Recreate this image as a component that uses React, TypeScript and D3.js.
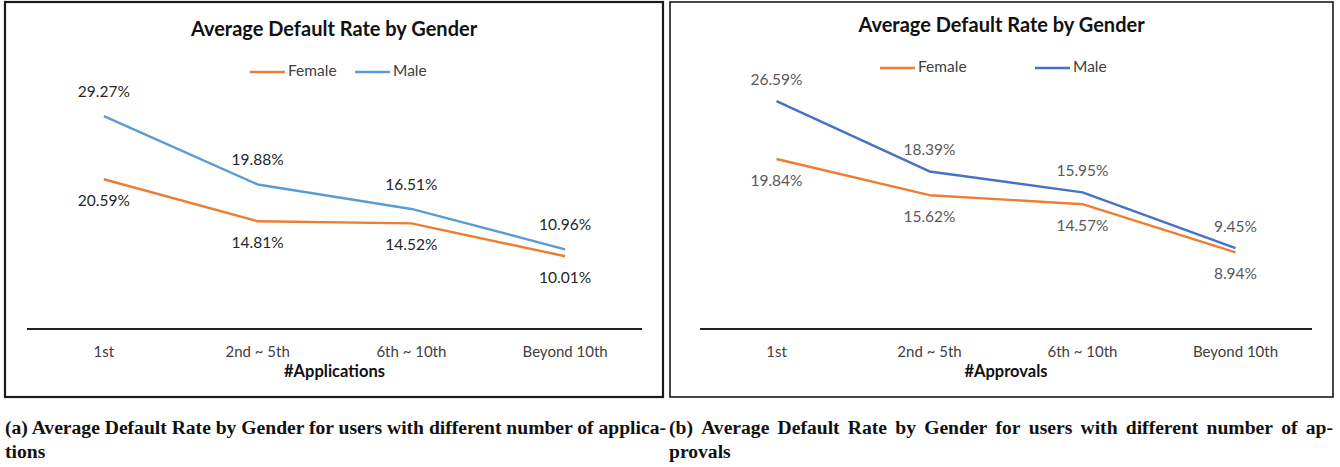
import * as d3 from "d3"
import { useLayoutEffect, useRef, useState } from "react"

const categories = ["1st", "2nd ~ 5th", "6th ~ 10th", "Beyond 10th"]
const femaleApplications = [20.59, 14.81, 14.52, 10.01]
const maleApplications = [29.27, 19.88, 16.51, 10.96]
const femaleApprovals = [19.84, 15.62, 14.57, 8.94]
const maleApprovals = [26.59, 18.39, 15.95, 9.45]

const captionA = "(a) Average Default Rate by Gender for users with different number of applica-"
const captionA2 = "tions"
const captionB = "(b) Average Default Rate by Gender for users with different number of ap-"
const captionB2 = "provals"

const FONT = "Lato, 'Open Sans', sans-serif"
const CAP_FONT = "'Liberation Serif', 'DejaVu Serif', serif"
const ORANGE = "#ED7D31"

type PanelProps = {
  left: number
  right: number
  xRange: [number, number]
  yMax: number
  yTop: number
  female: number[]
  male: number[]
  maleColor: string
  labelColor: string
  maleOffset: number
  xTitle: string
  titleY: number
  legendY: number
  legendFemaleX: number
  legendMaleX: number
  borderWidth: number
}

function Panel(p: PanelProps) {
  const baseY = 329
  const x = d3.scaleBand().domain(categories).range(p.xRange)
  const y = d3.scaleLinear().domain([0, p.yMax]).range([baseY, p.yTop])
  const cx = (c: string) => x(c)! + x.bandwidth() / 2
  const line = d3
    .line<number>()
    .x((_, i) => cx(categories[i]))
    .y((d) => y(d))
  const mid = (p.left + p.right) / 2
  const titleCx = (p.xRange[0] + p.xRange[1]) / 2

  return (
    <g fontFamily={FONT}>
      <rect
        x={p.left}
        y={2}
        width={p.right - p.left}
        height={395}
        fill="#fff"
        stroke="#1a1a1a"
        strokeWidth={p.borderWidth}
      />
      <text x={mid} y={p.titleY} textAnchor="middle" fontSize={20} fontWeight={700} fill="#111" dominantBaseline="middle">
        Average Default Rate by Gender
      </text>

      {/* legend */}
      <line x1={p.legendFemaleX} x2={p.legendFemaleX + 35} y1={p.legendY} y2={p.legendY} stroke={ORANGE} strokeWidth={2.5} />
      <text x={p.legendFemaleX + 38} y={p.legendY} fontSize={15.5} fill="#404040" dominantBaseline="middle">Female</text>
      <line x1={p.legendMaleX} x2={p.legendMaleX + 35} y1={p.legendY} y2={p.legendY} stroke={p.maleColor} strokeWidth={2.5} />
      <text x={p.legendMaleX + 38} y={p.legendY} fontSize={15.5} fill="#404040" dominantBaseline="middle">Male</text>

      <line x1={p.xRange[0]} x2={p.xRange[1]} y1={baseY} y2={baseY} stroke="#222" strokeWidth={1.8} />

      <path d={line(p.female)!} fill="none" stroke={ORANGE} strokeWidth={2.4} strokeLinejoin="round" />
      <path d={line(p.male)!} fill="none" stroke={p.maleColor} strokeWidth={2.4} strokeLinejoin="round" />

      {p.male.map((v, i) => (
        <text key={"m" + i} x={cx(categories[i])} y={y(v) + p.maleOffset} textAnchor="middle" dominantBaseline="middle" fontSize={15.5} fill={p.labelColor}>
          {v.toFixed(2)}%
        </text>
      ))}
      {p.female.map((v, i) => (
        <text key={"f" + i} x={cx(categories[i])} y={y(v) + 23} textAnchor="middle" dominantBaseline="middle" fontSize={15.5} fill={p.labelColor}>
          {v.toFixed(2)}%
        </text>
      ))}

      {categories.map((c) => (
        <text key={c} x={cx(c)} y={353} textAnchor="middle" dominantBaseline="middle" fontSize={15} fill="#404040">
          {c}
        </text>
      ))}
      <text x={titleCx} y={373} textAnchor="middle" dominantBaseline="middle" fontSize={16.5} fontWeight={700} fill="#111">
        {p.xTitle}
      </text>
    </g>
  )
}

// caption: condensed bold serif, (b) justified by widening word gaps
function Caption() {
  const measureRef = useRef<SVGGElement>(null)
  const [widths, setWidths] = useState<number[] | null>(null)
  const wordsB = captionB.split(" ")
  const toMeasure = [captionA, captionA2, captionB2, ...wordsB, "a b", "ab"]

  useLayoutEffect(() => {
    const g = measureRef.current
    if (!g) return
    const els = Array.from(g.querySelectorAll("text")) as SVGTextElement[]
    setWidths(els.map((e) => e.getComputedTextLength()))
  }, [])

  const common = { fontFamily: CAP_FONT, fontWeight: 700, fontSize: 18, fill: "#111" }

  if (!widths) {
    return (
      <g ref={measureRef} opacity={0}>
        {toMeasure.map((t, i) => (
          <text key={i} {...common} x={0} y={-50}>{t}</text>
        ))}
      </g>
    )
  }

  const aWidth = 661
  const r = aWidth / widths[0]
  const wordW = wordsB.map((_, i) => widths[3 + i] * r)
  const totalB = 664
  const gap = (totalB - d3.sum(wordW)) / (wordsB.length - 1)
  let cursor = 669
  const bPos = wordW.map((w) => {
    const xx = cursor
    cursor += w + gap
    return xx
  })

  return (
    <g {...common}>
      <text x={5} y={434} textLength={aWidth} lengthAdjust="spacingAndGlyphs">{captionA}</text>
      <text x={5} y={458} textLength={widths[1] * r} lengthAdjust="spacingAndGlyphs">{captionA2}</text>
      {wordsB.map((w, i) => (
        <text key={i} x={bPos[i]} y={434} textLength={wordW[i]} lengthAdjust="spacingAndGlyphs">{w}</text>
      ))}
      <text x={669} y={458} textLength={widths[2] * r} lengthAdjust="spacingAndGlyphs">{captionB2}</text>
    </g>
  )
}

export default function App() {
  return (
    <svg width={1340} height={467} style={{ position: "absolute", left: 0, top: 0 }}>
      <rect width={1340} height={467} fill="#fff" />
      <Panel
        left={5}
        right={663}
        xRange={[27, 642]}
        yMax={35}
        yTop={74.5}
        female={femaleApplications}
        male={maleApplications}
        maleColor="#5B9BD5"
        labelColor="#262626"
        maleOffset={-23}
        xTitle="#Applications"
        titleY={31}
        legendY={72}
        legendFemaleX={250}
        legendMaleX={355}
        borderWidth={2.2}
      />
      <Panel
        left={670}
        right={1333}
        xRange={[700, 1312]}
        yMax={30}
        yTop={72}
        female={femaleApprovals}
        male={maleApprovals}
        maleColor="#4472C4"
        labelColor="#595959"
        maleOffset={-20}
        xTitle="#Approvals"
        titleY={27}
        legendY={68}
        legendFemaleX={880}
        legendMaleX={1035}
        borderWidth={1.6}
      />
      <Caption />
    </svg>
  )
}
